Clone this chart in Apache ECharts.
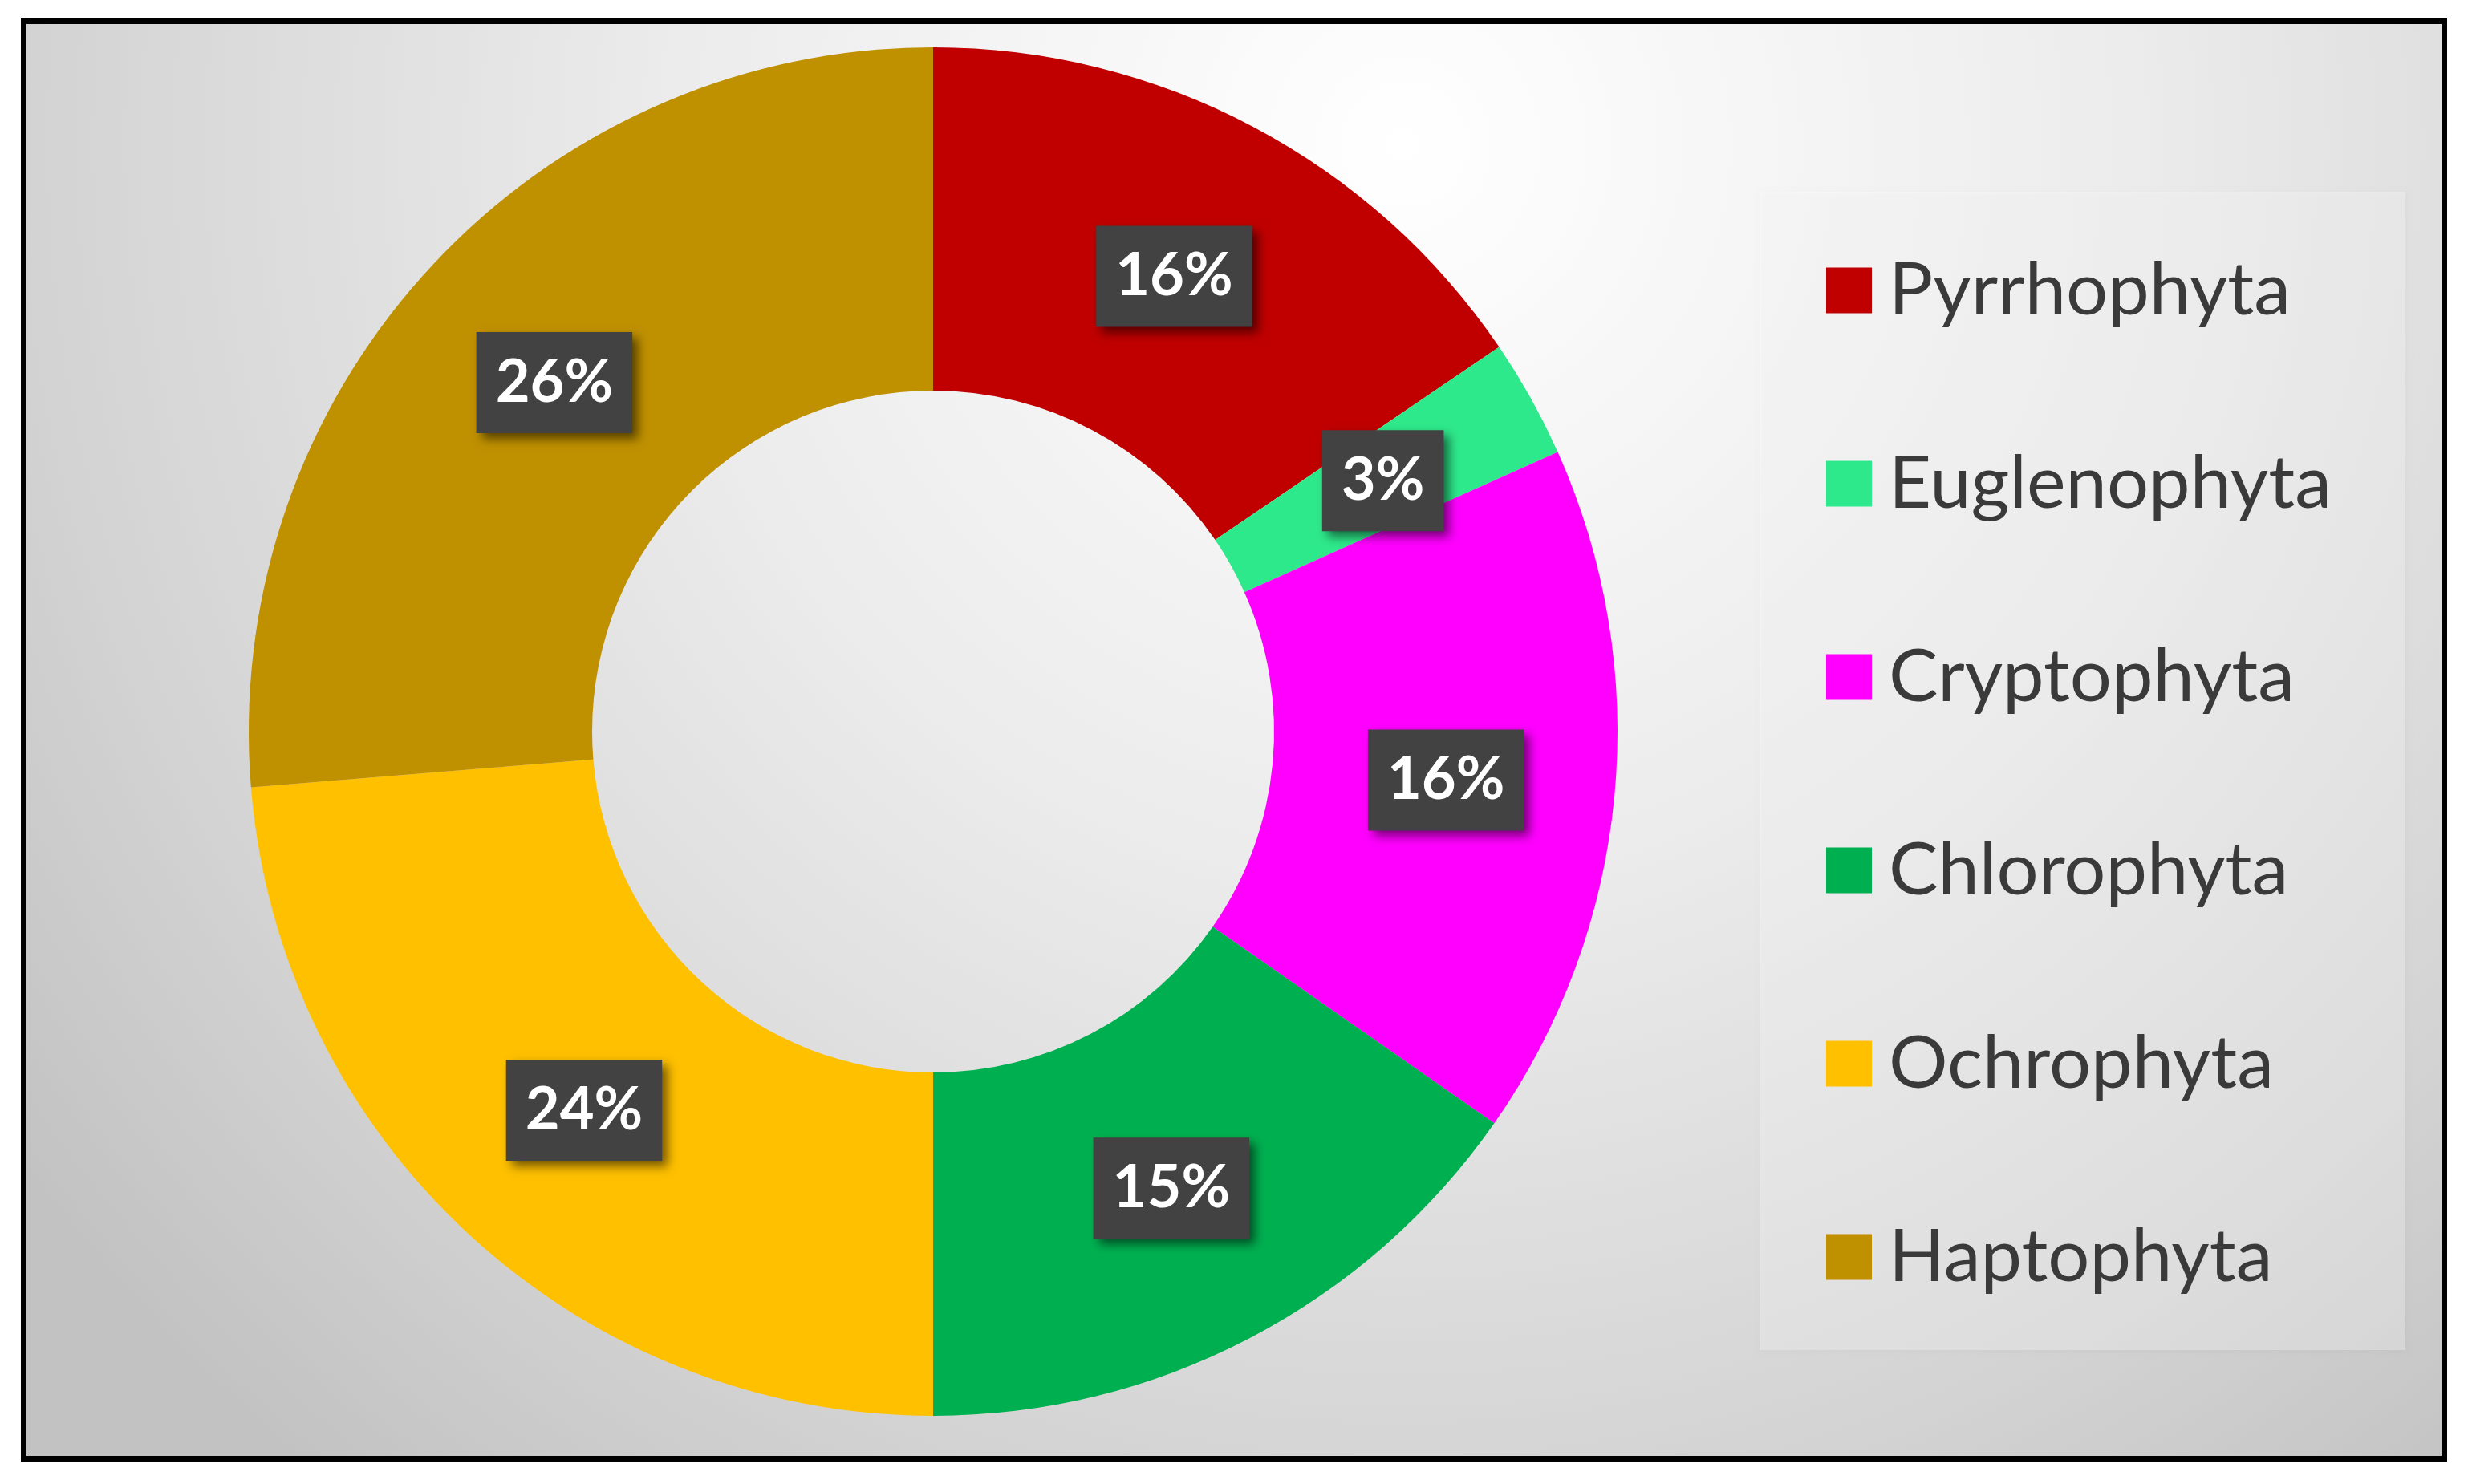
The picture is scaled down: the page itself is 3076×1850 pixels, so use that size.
<!DOCTYPE html>
<html>
<head>
<meta charset="utf-8">
<title>Phytoplankton groups</title>
<script src="https://cdn.jsdelivr.net/npm/echarts@6/dist/echarts.min.js"></script>
<style>
    html, body { margin: 0; padding: 0; background: #ffffff; }
    #main { width: 3076px; height: 1850px; }
</style>
</head>
<body>
<div id="main"></div>
<script>
var groupNames = ['Pyrrhophyta', 'Euglenophyta', 'Cryptophyta', 'Chlorophyta', 'Ochrophyta', 'Haptophyta'];
var groupShares = [15.5, 2.8, 16.4, 15.3, 23.7, 26.3];
var groupColors = ['#c00000', '#2ee98b', '#ff00ff', '#00b050', '#ffc000', '#bf9000'];

var phytoChart = (function () {
    var Return = {
        init: function () {
            initChart();
        }
    }
    var buildData = function () {
        var list = [];
        for (var i = 0; i < groupNames.length; i++) {
            list.push({
                name: groupNames[i],
                value: groupShares[i],
                itemStyle: { color: groupColors[i] }
            });
        }
        return list;
    }
    var initChart = function () {
        var myChart = echarts.init(document.getElementById('main'));
        var option = {
            animation: false,
            graphic: [
                {
                    type: 'rect',
                    z: -10,
                    shape: { x: 29.5, y: 26.5, width: 3017, height: 1792 },
                    style: {
                        fill: {
                            type: 'radial',
                            x: 1750,
                            y: 180,
                            r: 2150,
                            global: true,
                            colorStops: [
                                { offset: 0, color: '#ffffff' },
                                { offset: 0.42, color: '#ececec' },
                                { offset: 0.78, color: '#d4d4d4' },
                                { offset: 1, color: '#c2c2c2' }
                            ]
                        },
                        stroke: '#000000',
                        lineWidth: 7
                    }
                },
                {
                    type: 'rect',
                    z: -9,
                    shape: { x: 2193, y: 239, width: 805, height: 1444 },
                    style: {
                        fill: 'rgba(255,255,255,0.3)',
                        shadowColor: 'rgba(0,0,0,0.08)',
                        shadowBlur: 6,
                        shadowOffsetX: 2,
                        shadowOffsetY: 2
                    }
                }
            ],
            legend: {
                orient: 'vertical',
                left: 2276,
                top: 316,
                padding: 0,
                selectedMode: false,
                icon: 'rect',
                itemWidth: 57,
                itemHeight: 57,
                itemGap: 149,
                data: groupNames,
                textStyle: {
                    fontFamily: 'Lato',
                    fontSize: 92,
                    lineHeight: 86,
                    color: '#3a3a3a',
                    padding: [0, 0, 0, 16]
                }
            },
            series: [
                {
                    type: 'pie',
                    center: [1163, 912],
                    radius: [425, 853],
                    startAngle: 90,
                    clockwise: true,
                    percentPrecision: 0,
                    avoidLabelOverlap: false,
                    silent: true,
                    label: {
                        show: true,
                        position: 'inside',
                        formatter: '{d}%',
                        fontFamily: 'Lato',
                        fontWeight: 'bold',
                        fontSize: 74,
                        lineHeight: 80,
                        color: '#ffffff',
                        backgroundColor: '#424242',
                        padding: [23, 24],
                        shadowColor: 'rgba(0,0,0,0.55)',
                        shadowBlur: 12,
                        shadowOffsetX: 7,
                        shadowOffsetY: 7
                    },
                    labelLine: { show: false },
                    data: buildData()
                }
            ]
        };
        myChart.setOption(option);
    }
    return Return;
})();

; (function () {
    phytoChart.init();
})();
</script>
</body>
</html>
